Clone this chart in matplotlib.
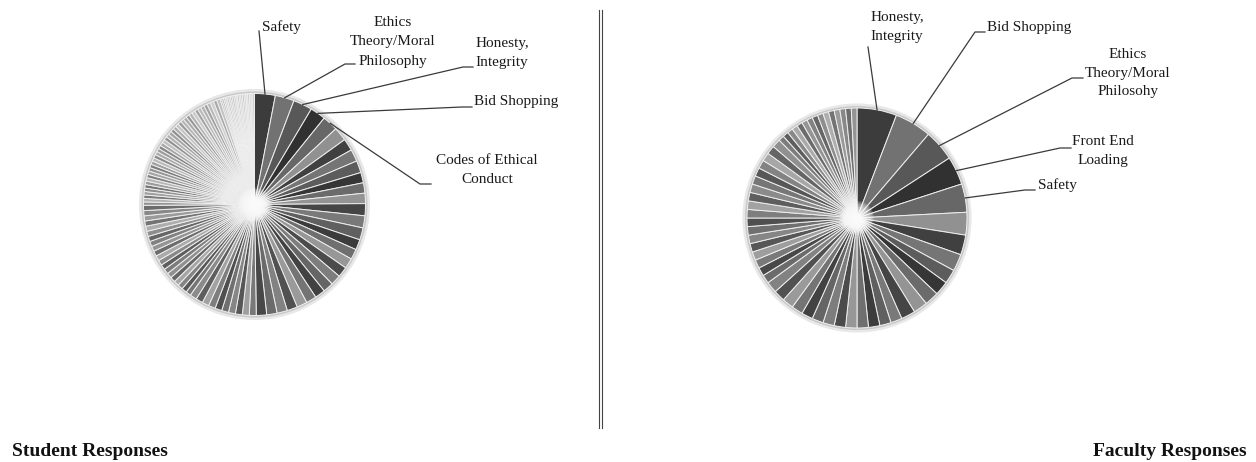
import numpy as np
import matplotlib.pyplot as plt
from matplotlib.patches import Circle

# Student responses (counts per topic, largest first)
student_topics = ["Safety", "Ethics\nTheory/Moral\nPhilosophy", "Honesty,\nIntegrity",
                  "Bid Shopping", "Codes of Ethical\nConduct"]
student_counts = [12, 11, 11, 9, 9, 8, 7, 7, 7, 6, 6, 6,
                  7, 7, 7, 6, 6, 6, 6, 6, 6, 6, 6, 6, 6, 6, 6, 6,
                  4, 4, 4, 4, 4, 4, 4, 4, 4, 4, 3, 3, 3, 3, 3,
                  3, 3, 3, 3, 3, 3, 3, 3, 3, 3, 3, 3, 3, 3, 3,
                  2, 2, 2, 2, 2, 2, 2, 2, 2, 2, 2, 2, 2, 2, 2, 2, 2, 2, 2, 2,
                  2, 2, 2, 2, 2, 2, 2, 2, 2, 2, 2, 2, 2, 2, 2, 2, 2, 2, 2, 2,
                  1, 1, 1, 1, 1, 1, 1, 1, 1, 1, 1, 1, 1, 1, 1, 1, 1, 1, 1, 1]

# Faculty responses
faculty_topics = ["Honesty,\nIntegrity", "Bid Shopping", "Ethics\nTheory/Moral\nPhilosohy",
                  "Front End\nLoading", "Safety"]
faculty_counts = [14, 13, 11, 10, 10,
                  8, 7, 6, 5, 5, 5, 5, 5, 4, 4, 4, 4,
                  4, 4, 4, 4, 4, 4, 4, 4, 4, 3, 3, 3, 3, 3, 3, 3, 3,
                  3, 3, 3, 3, 3, 3, 3, 3, 3, 3, 2, 2, 2, 2, 2, 2, 2, 2,
                  2, 2, 2, 2, 2, 2, 2]

W, H = 1256, 462
gray_cycle = [0.235, 0.447, 0.341, 0.184, 0.396, 0.561]


def slice_colors(n):
    cols = []
    for i in range(n):
        base = gray_cycle[i % len(gray_cycle)]
        t = 0.72 * min(1.0, i / 118) ** 1.2
        g = base + (1 - base) * t
        cols.append((g, g, g))
    return cols


def draw_pie(ax, counts, cx, cy, r):
    wedges, _ = ax.pie(counts, center=(cx, H - cy), radius=r, startangle=90,
                       counterclock=False, colors=slice_colors(len(counts)),
                       wedgeprops=dict(edgecolor="#eeeeee", linewidth=0.7))
    # soft rim
    ax.add_patch(Circle((cx, H - cy), r + 1.0, fill=False, edgecolor="#c8c8c8", lw=1.4, zorder=0.5))
    ax.add_patch(Circle((cx, H - cy), r + 2.8, fill=False, edgecolor="#e8e8e8", lw=2.5, zorder=0.4))
    # whitish hub where the thin slices meet
    for k in range(10):
        ax.add_patch(Circle((cx, H - cy), 17 - k * 1.5, color="white", alpha=0.2, lw=0, zorder=3))
    return wedges


def label(ax, wedge, text, tx, ty, ha, elbow, hlen):
    mid = np.deg2rad((wedge.theta1 + wedge.theta2) / 2)
    cx, cy = wedge.center
    r = wedge.r
    px, py = cx + r * np.cos(mid), cy + r * np.sin(mid)
    ex, ey = elbow[0], H - elbow[1]
    xs, ys = [px, ex], [py, ey]
    if hlen:
        xs.append(ex + hlen)
        ys.append(ey)
    ax.plot(xs, ys, color="#3a3a3a", lw=0.9, zorder=4)
    ax.text(tx, H - ty, text, ha=ha, va="center", fontsize=11, family="Liberation Serif",
            color="#1a1a1a", linespacing=1.6, multialignment="center")


fig = plt.figure(figsize=(W / 100, H / 100), dpi=100)
ax = fig.add_axes([0, 0, 1, 1])

sw = draw_pie(ax, student_counts, 254.5, 204.5, 111)
fw = draw_pie(ax, faculty_counts, 857, 218, 110)

# student labels
label(ax, sw[0], student_topics[0], 262, 27, "left", (259, 31), 0)
label(ax, sw[1], student_topics[1], 393, 42, "center", (345, 64), 10)
label(ax, sw[2], student_topics[2], 502, 53, "center", (463, 67), 10)
label(ax, sw[3], student_topics[3], 474, 102, "left", (462, 107), 10)
label(ax, sw[4], student_topics[4], 487, 170, "center", (420, 184), 11)

# faculty labels
label(ax, fw[0], faculty_topics[0], 897, 27, "center", (868, 47), 0)
label(ax, fw[1], faculty_topics[1], 987, 27, "left", (975, 32), 10)
label(ax, fw[2], faculty_topics[2], 1128, 73, "center", (1072, 78), 11)
label(ax, fw[3], faculty_topics[3], 1103, 151, "center", (1060, 148), 11)
label(ax, fw[4], faculty_topics[4], 1038, 185, "left", (1025, 190), 10)

# double divider
ax.plot([598.8, 598.8], [H - 10, H - 428], color="#444444", lw=0.8)
ax.plot([601.5, 601.5], [H - 10, H - 428], color="#444444", lw=0.8)

ax.text(12, H - 451, "Student Responses", ha="left", va="center", fontsize=14,
        fontweight="bold", family="Liberation Serif", color="#111111")
ax.text(1247, H - 451, "Faculty Responses", ha="right", va="center", fontsize=14,
        fontweight="bold", family="Liberation Serif", color="#111111")

ax.set_xlim(0, W)
ax.set_ylim(0, H)
ax.set_aspect("equal")
ax.axis("off")

plt.savefig("out.png", dpi=100)
